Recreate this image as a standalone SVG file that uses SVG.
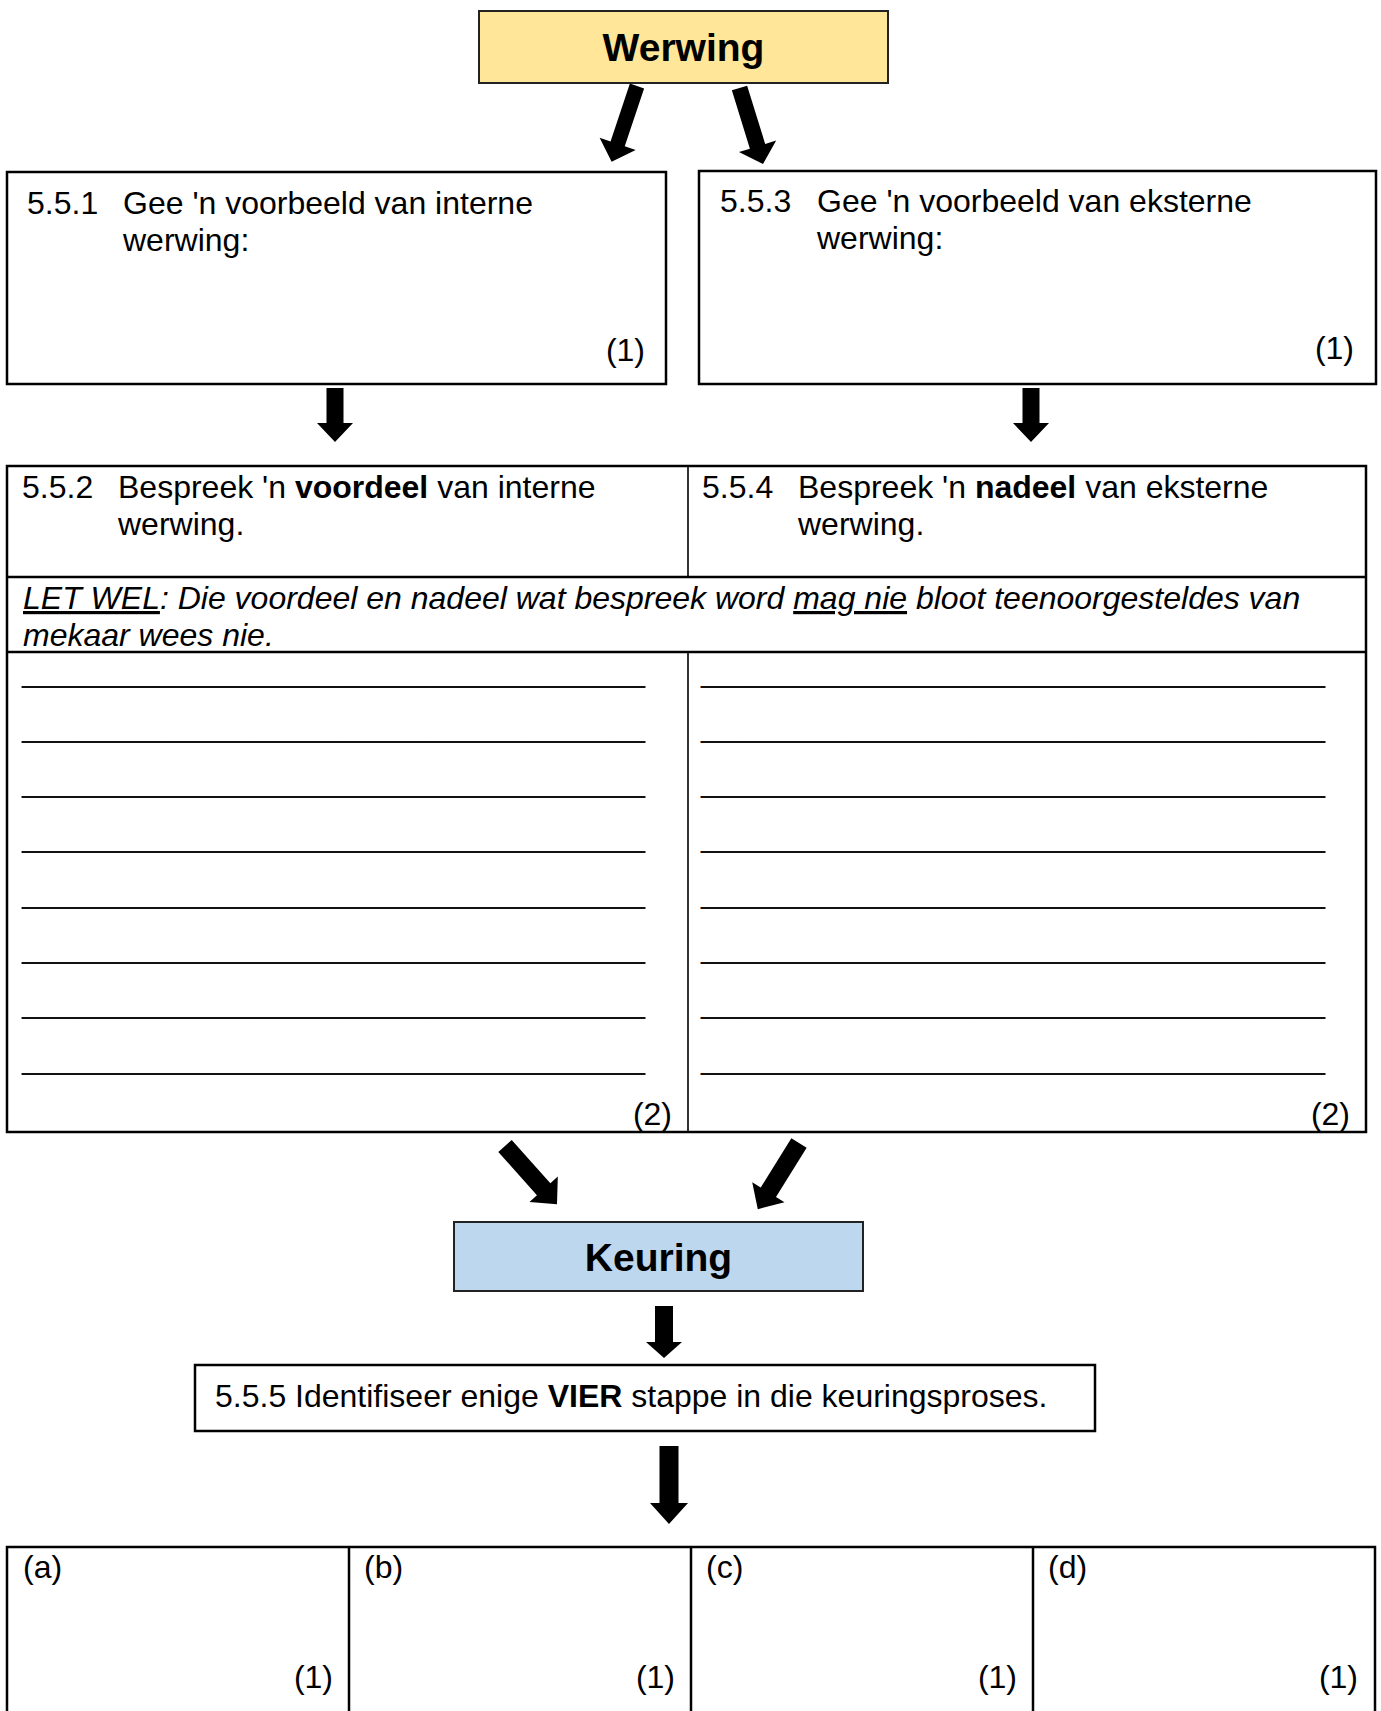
<svg xmlns="http://www.w3.org/2000/svg" width="1381" height="1711" viewBox="0 0 1381 1711">
<style>
.t{font-family:"Liberation Sans",Arial,sans-serif;font-size:32px;fill:#000}
.b{font-weight:bold}
.i{font-style:italic}
.u{text-decoration:underline}
.h{font-family:"Liberation Sans",Arial,sans-serif;font-size:39px;font-weight:bold;fill:#000;text-anchor:middle}
.e{text-anchor:end}
.box{fill:#fff;stroke:#000;stroke-width:2.5}
.ln{fill:none;stroke:#000;stroke-width:2.5}
.thin{fill:none;stroke:#000;stroke-width:1.6}
.ans{font-family:"Liberation Sans",Arial,sans-serif;font-size:32px;fill:#111}
.arr{fill:#000}
</style>
<rect width="1381" height="1711" fill="#fff"/>

<g id="werwing">
<rect x="479" y="11" width="409" height="72" fill="#FFE699" stroke="#222" stroke-width="2"/>
<text class="h" x="683.5" y="61">Werwing</text>
</g>

<g id="q551">
<rect class="box" x="7" y="172" width="659" height="212"/>
<text class="t" x="27" y="214">5.5.1</text>
<text class="t" x="123" y="214">Gee 'n voorbeeld van interne</text>
<text class="t" x="123" y="251">werwing:</text>
<text class="t e" x="645" y="361">(1)</text>
</g>

<g id="q553">
<rect class="box" x="699" y="171" width="677" height="213"/>
<text class="t" x="720" y="212">5.5.3</text>
<text class="t" x="817" y="212">Gee 'n voorbeeld van eksterne</text>
<text class="t" x="817" y="249">werwing:</text>
<text class="t e" x="1354" y="359">(1)</text>
</g>

<g id="table552554">
<rect class="box" x="7" y="466" width="1359" height="666"/>
<line class="ln" x1="7" y1="577" x2="1366" y2="577"/>
<line class="ln" x1="7" y1="652" x2="1366" y2="652"/>
<line class="thin" x1="688" y1="466" x2="688" y2="577"/>
<line class="thin" x1="688" y1="652" x2="688" y2="1132"/>
<text class="t" x="22" y="498">5.5.2</text>
<text class="t" x="118" y="498">Bespreek 'n <tspan class="b">voordeel</tspan> van interne</text>
<text class="t" x="118" y="535">werwing.</text>
<text class="t" x="702" y="498">5.5.4</text>
<text class="t" x="798" y="498">Bespreek 'n <tspan class="b">nadeel</tspan> van eksterne</text>
<text class="t" x="798" y="535">werwing.</text>
<text class="t i" x="23" y="609"><tspan class="u">LET WEL</tspan>: Die voordeel en nadeel wat bespreek word <tspan class="u">mag nie</tspan> bloot teenoorgesteldes van</text>
<text class="t i" x="23" y="646">mekaar wees nie.</text>
<g id="lines-left">
<text class="ans" x="22" y="682" textLength="623" lengthAdjust="spacingAndGlyphs">___________________________________</text>
<text class="ans" x="22" y="737" textLength="623" lengthAdjust="spacingAndGlyphs">___________________________________</text>
<text class="ans" x="22" y="792" textLength="623" lengthAdjust="spacingAndGlyphs">___________________________________</text>
<text class="ans" x="22" y="847" textLength="623" lengthAdjust="spacingAndGlyphs">___________________________________</text>
<text class="ans" x="22" y="903" textLength="623" lengthAdjust="spacingAndGlyphs">___________________________________</text>
<text class="ans" x="22" y="958" textLength="623" lengthAdjust="spacingAndGlyphs">___________________________________</text>
<text class="ans" x="22" y="1013" textLength="623" lengthAdjust="spacingAndGlyphs">___________________________________</text>
<text class="ans" x="22" y="1069" textLength="623" lengthAdjust="spacingAndGlyphs">___________________________________</text>
</g>
<g id="lines-right">
<text class="ans" x="701" y="682" textLength="624" lengthAdjust="spacingAndGlyphs">___________________________________</text>
<text class="ans" x="701" y="737" textLength="624" lengthAdjust="spacingAndGlyphs">___________________________________</text>
<text class="ans" x="701" y="792" textLength="624" lengthAdjust="spacingAndGlyphs">___________________________________</text>
<text class="ans" x="701" y="847" textLength="624" lengthAdjust="spacingAndGlyphs">___________________________________</text>
<text class="ans" x="701" y="903" textLength="624" lengthAdjust="spacingAndGlyphs">___________________________________</text>
<text class="ans" x="701" y="958" textLength="624" lengthAdjust="spacingAndGlyphs">___________________________________</text>
<text class="ans" x="701" y="1013" textLength="624" lengthAdjust="spacingAndGlyphs">___________________________________</text>
<text class="ans" x="701" y="1069" textLength="624" lengthAdjust="spacingAndGlyphs">___________________________________</text>
</g>
<text class="t e" x="672" y="1125">(2)</text>
<text class="t e" x="1350" y="1125">(2)</text>
</g>

<g id="keuring">
<rect x="454" y="1222" width="409" height="69" fill="#BDD7EE" stroke="#222" stroke-width="2"/>
<text class="h" x="658.5" y="1271">Keuring</text>
</g>

<g id="q555">
<rect class="box" x="195" y="1365" width="900" height="66"/>
<text class="t" x="215" y="1407">5.5.5 Identifiseer enige <tspan class="b">VIER</tspan> stappe in die keuringsproses.</text>
</g>

<g id="steps">
<rect class="box" x="7" y="1547" width="1368" height="180"/>
<line class="ln" x1="349" y1="1547" x2="349" y2="1711"/>
<line class="ln" x1="691" y1="1547" x2="691" y2="1711"/>
<line class="ln" x1="1033" y1="1547" x2="1033" y2="1711"/>
<text class="t" x="23" y="1578">(a)</text>
<text class="t" x="364" y="1578">(b)</text>
<text class="t" x="706" y="1578">(c)</text>
<text class="t" x="1048" y="1578">(d)</text>
<text class="t e" x="333" y="1688">(1)</text>
<text class="t e" x="675" y="1688">(1)</text>
<text class="t e" x="1017" y="1688">(1)</text>
<text class="t e" x="1358" y="1688">(1)</text>
</g>

<g id="connectors">
<polygon class="arr" transform="translate(637,86) rotate(18.5)" points="-7.5,0 7.5,0 7.5,61 19,61 0,80 -19,61 -7.5,61"/>
<polygon class="arr" transform="translate(739.5,88) rotate(-17.2)" points="-8,0 8,0 8,61 19.5,61 0,79.5 -19.5,61 -8,61"/>
<polygon class="arr" transform="translate(335,388)" points="-8.5,0 8.5,0 8.5,35 18,35 0,54 -18,35 -8.5,35"/>
<polygon class="arr" transform="translate(1031,388)" points="-8.5,0 8.5,0 8.5,35 18,35 0,54 -18,35 -8.5,35"/>
<polygon class="arr" transform="translate(505,1146) rotate(-41.8)" points="-9,0 9,0 9,58 19,58 0,78 -19,58 -9,58"/>
<polygon class="arr" transform="translate(799,1143) rotate(31.9)" points="-9,0 9,0 9,58 19,58 0,78 -19,58 -9,58"/>
<polygon class="arr" transform="translate(664,1306)" points="-9,0 9,0 9,36 18,36 0,52 -18,36 -9,36"/>
<polygon class="arr" transform="translate(669,1446)" points="-9.5,0 9.5,0 9.5,57 19,57 0,78 -19,57 -9.5,57"/>
</g>
</svg>
